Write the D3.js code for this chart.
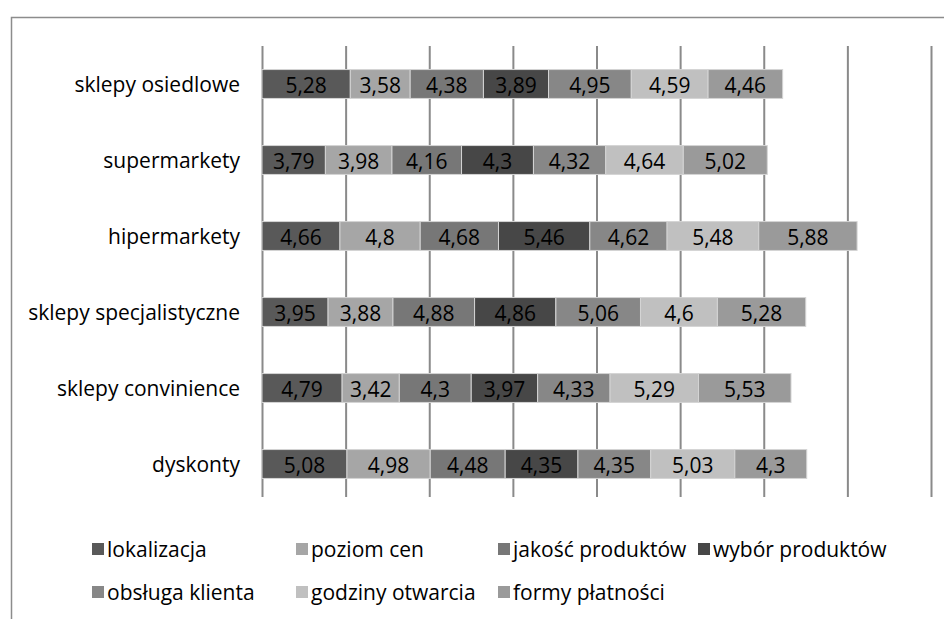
<!DOCTYPE html>
<html>
<head>
<meta charset="utf-8">
<script src="https://cdn.jsdelivr.net/npm/d3@7"></script>
<style>
  html, body { margin: 0; padding: 0; background: #fff; }
  svg { display: block; }
  text { font-family: "Open Sans", "Noto Sans", sans-serif; fill: #000; }
</style>
</head>
<body>
<svg id="chart" width="944" height="619"></svg>
<script>
// Store types (rows, top to bottom)
const categories = [
  "sklepy osiedlowe",
  "supermarkety",
  "hipermarkety",
  "sklepy specjalistyczne",
  "sklepy convinience",
  "dyskonty"
];

// Rating factors (stack order, left to right)
const seriesNames = [
  "lokalizacja",
  "poziom cen",
  "jakość produktów",
  "wybór produktów",
  "obsługa klienta",
  "godziny otwarcia",
  "formy płatności"
];

// Values per factor, one entry per store type
const lokalizacja      = [5.28, 3.79, 4.66, 3.95, 4.79, 5.08];
const poziomCen        = [3.58, 3.98, 4.80, 3.88, 3.42, 4.98];
const jakoscProduktow  = [4.38, 4.16, 4.68, 4.88, 4.30, 4.48];
const wyborProduktow   = [3.89, 4.30, 5.46, 4.86, 3.97, 4.35];
const obslugaKlienta   = [4.95, 4.32, 4.62, 5.06, 4.33, 4.35];
const godzinyOtwarcia  = [4.59, 4.64, 5.48, 4.60, 5.29, 5.03];
const formyPlatnosci   = [4.46, 5.02, 5.88, 5.28, 5.53, 4.30];

const seriesValues = [
  lokalizacja, poziomCen, jakoscProduktow, wyborProduktow,
  obslugaKlienta, godzinyOtwarcia, formyPlatnosci
];

// Gridline positions on the value axis
const gridTicks = [0, 5, 10, 15, 20, 25, 30, 35, 40];

const colors = ["#595959", "#a6a6a6", "#777777", "#474747", "#878787", "#c0c0c0", "#9a9a9a"];

const svg = d3.select("#chart");

// Outer chart frame (runs off the right and bottom edges)
svg.append("rect")
  .attr("x", 11.5).attr("y", 17.5)
  .attr("width", 960).attr("height", 640)
  .attr("fill", "none")
  .attr("stroke", "#8c8c8c")
  .attr("stroke-width", 1.5);

const plot = { left: 262, right: 931, top: 46, bottom: 502 };

const x = d3.scaleLinear().domain([0, 40]).range([plot.left, plot.right]);
const y = d3.scaleBand().domain(categories)
  .range([plot.top, plot.bottom])
  .paddingInner(0.62).paddingOuter(0.31);

// Vertical gridlines
svg.append("g")
  .attr("transform", `translate(0,${plot.top})`)
  .call(d3.axisBottom(x).tickValues(gridTicks).tickSize(497 - plot.top).tickFormat(""))
  .call(g => g.select(".domain").remove())
  .call(g => g.selectAll(".tick line").attr("stroke", "#8a8a8a").attr("stroke-width", 2));

// Category labels
svg.append("g")
  .selectAll("text")
  .data(categories)
  .join("text")
  .attr("x", 240)
  .attr("y", d => y(d) + y.bandwidth() / 2)
  .attr("text-anchor", "end")
  .attr("dominant-baseline", "central")
  .attr("font-size", 21)
  .text(d => d);

// Stacked segments
const rows = categories.map((c, i) => {
  const o = { category: c };
  seriesNames.forEach((s, j) => { o[s] = seriesValues[j][i]; });
  return o;
});
const stacked = d3.stack().keys(seriesNames)(rows);

const layers = svg.append("g")
  .selectAll("g")
  .data(stacked)
  .join("g")
  .attr("fill", (d, i) => colors[i]);

layers.selectAll("rect")
  .data(d => d)
  .join("rect")
  .attr("x", d => x(d[0]))
  .attr("y", d => y(d.data.category))
  .attr("width", d => x(d[1]) - x(d[0]))
  .attr("height", y.bandwidth())
  .attr("stroke", "#d4d4d4")
  .attr("stroke-width", 1);

const fmt = v => String(v).replace(".", ",");

layers.selectAll("text")
  .data(d => d.map(p => ({ p, key: d.key })))
  .join("text")
  .attr("x", d => (x(d.p[0]) + x(d.p[1])) / 2)
  .attr("y", d => y(d.p.data.category) + y.bandwidth() / 2 + 1)
  .attr("text-anchor", "middle")
  .attr("dominant-baseline", "central")
  .attr("font-size", 21)
  .style("fill", "#000")
  .text(d => fmt(d.p.data[d.key]));

// Legend
const legendPos = [
  [92, 549], [296, 549], [498, 549], [698, 549],
  [92, 592], [296, 592], [498, 592]
];
const legend = svg.append("g")
  .selectAll("g")
  .data(seriesNames)
  .join("g")
  .attr("transform", (d, i) => `translate(${legendPos[i][0]},${legendPos[i][1]})`);

legend.append("rect")
  .attr("x", 0).attr("y", -6)
  .attr("width", 12).attr("height", 12)
  .attr("fill", (d, i) => colors[i]);

legend.append("text")
  .attr("x", 15)
  .attr("y", 0)
  .attr("dominant-baseline", "central")
  .attr("font-size", 21)
  .text(d => d);
</script>
</body>
</html>
